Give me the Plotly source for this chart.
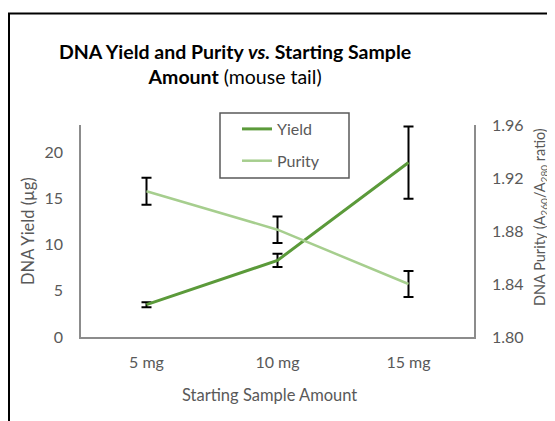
import plotly.graph_objects as go

categories = ["5 mg", "10 mg", "15 mg"]
yield_vals = [3.5, 8.3, 18.9]
yield_err = [0.27, 0.72, 3.92]
purity_vals = [1.910, 1.881, 1.840]
purity_err = [0.0102, 0.0100, 0.0099]
left_ticks = [0, 5, 10, 15, 20]
right_ticks = [1.80, 1.84, 1.88, 1.92, 1.96]

# page has an 8px body margin; figure coordinates = page - 8
W, H = 547, 413
L, R, T, B = 73, 466, 117, 329  # plot area in figure px

def px(x):
    return (x - L) / (R - L)

def py(y):
    return (B - y) / (B - T)

FONT = "Lato"
GRAY = "#595959"
YIELD_C = "#5B9A3A"
PURITY_C = "#A6CE8E"

fig = go.Figure()
fig.add_trace(go.Scatter(
    x=categories, y=yield_vals, name="Yield", mode="lines",
    line=dict(color=YIELD_C, width=3),
    error_y=dict(type="data", array=yield_err, color="black", thickness=2, width=5),
    legendgroup="a",
))
fig.add_trace(go.Scatter(
    x=categories, y=purity_vals, name="Purity", mode="lines", yaxis="y2",
    line=dict(color=PURITY_C, width=2.5),
    error_y=dict(type="data", array=purity_err, color="black", thickness=2, width=5),
    legendgroup="b",
))

axis_line = dict(showline=True, linecolor="#8C8C8C", linewidth=1.5, showgrid=False, zeroline=False)

fig.update_layout(
    width=W, height=H,
    margin=dict(l=L, r=W - R, t=T, b=H - B),
    paper_bgcolor="white", plot_bgcolor="white",
    font=dict(family=FONT, color=GRAY, size=16),
    showlegend=True,
    legend=dict(x=px(229), y=py(104), xanchor="left", yanchor="top",
                bgcolor="rgba(0,0,0,0)", borderwidth=0,
                font=dict(size=16, color=GRAY, family=FONT),
                tracegroupgap=8, traceorder="grouped"),
    xaxis=dict(type="category", range=[-0.5, 2.5], ticks="", ticklabelstandoff=10,
               tickfont=dict(size=16, color=GRAY), **axis_line),
    yaxis=dict(range=[0, 22.97], tickvals=left_ticks, ticks="", ticklabelstandoff=13,
               tickfont=dict(size=16, color=GRAY), **axis_line),
    yaxis2=dict(range=[1.80, 1.96], tickvals=right_ticks, tickformat=".2f",
                overlaying="y", side="right", ticks="", ticklabelstandoff=13,
                tickfont=dict(size=16, color=GRAY), **axis_line),
)

def ann(text, x, y, size, color=GRAY, angle=0):
    return dict(text=text, x=px(x), y=py(y), xref="paper", yref="paper",
                xanchor="center", yanchor="middle", showarrow=False,
                textangle=angle, font=dict(size=size, color=color, family=FONT),
                align="center")

annotations = [
    ann("<b>DNA Yield and Purity <i>vs.</i> Starting Sample<br>Amount</b> (mouse tail)",
        227, 56.5, 19.5, color="black"),
    ann("DNA Yield (µg)", 20, 223, 16.5, angle=-90),
    ann("DNA Purity (A<sub>260</sub>/A<sub>280</sub> ratio)", 532, 209, 14.5, angle=-90),
    ann("Starting Sample Amount", 261, 387, 16.5),
]
fig.update_layout(annotations=annotations)

shapes = [
    # legend box
    dict(type="rect", xref="paper", yref="paper", x0=px(212), x1=px(341), y0=py(170), y1=py(105),
         line=dict(color="#595959", width=1.5), fillcolor="rgba(0,0,0,0)"),
    # outer frame (left and top edges)
    dict(type="line", xref="paper", yref="paper", x0=px(1), x1=px(1), y0=py(5.5), y1=py(430),
         line=dict(color="black", width=2)),
    dict(type="line", xref="paper", yref="paper", x0=px(0), x1=px(570), y0=py(5.5), y1=py(5.5),
         line=dict(color="black", width=2)),
]
fig.update_layout(shapes=shapes)

fig.write_html("out.html")
